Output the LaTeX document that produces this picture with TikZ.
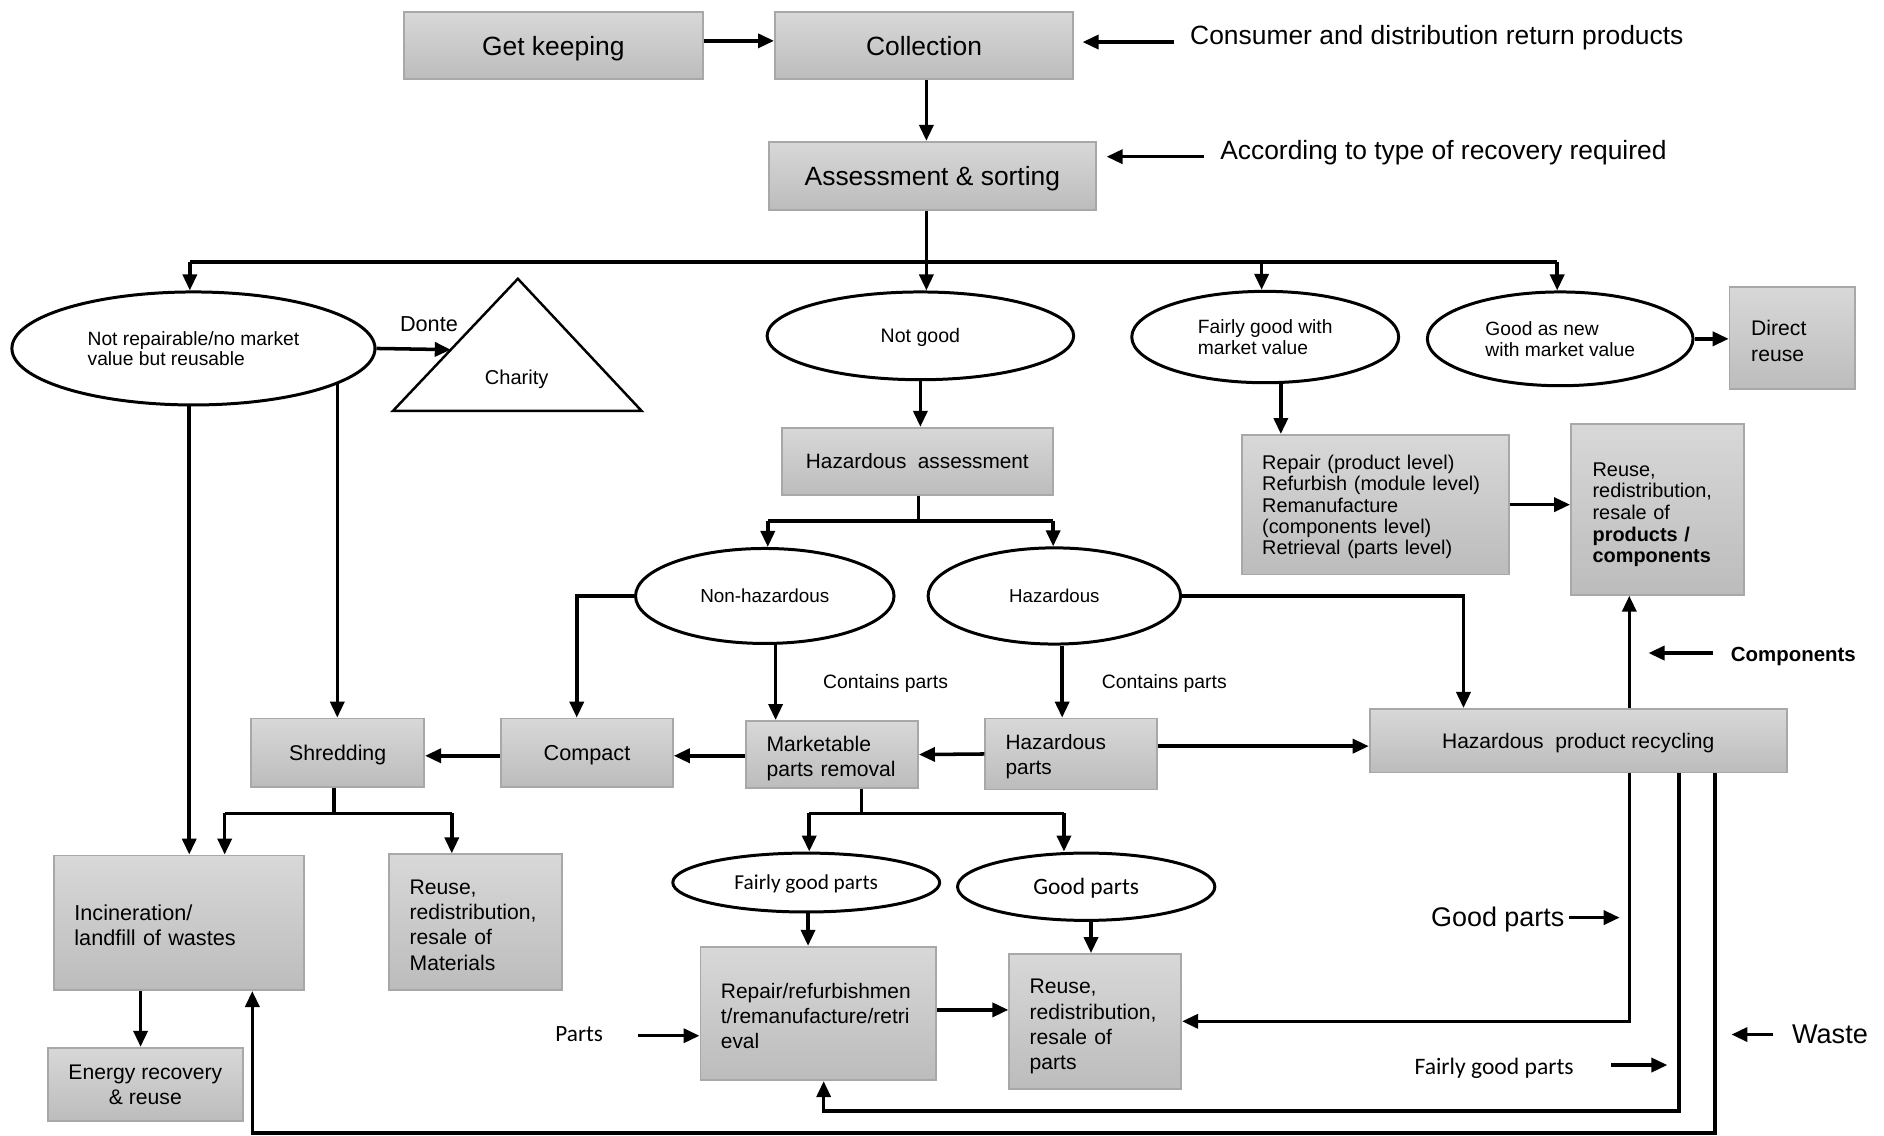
\documentclass[tikz,border=0pt]{standalone}
\usepackage{fontspec}
\setmainfont{Liberation Sans}
\newfontfamily\calfont{Carlito}
\usetikzlibrary{arrows.meta,shapes.geometric,calc}
\newcommand\fsz[2]{\fontsize{#1}{#2}\selectfont}
\definecolor{boxtop}{RGB}{216,216,216}
\definecolor{boxbot}{RGB}{188,188,188}
\definecolor{boxline}{RGB}{168,168,168}
\begin{document}
\begin{tikzpicture}[x=0.012cm, y=-0.012cm,
  box/.style={draw=boxline, line width=0.5pt, top color=boxtop, bottom color=boxbot, inner sep=0pt, align=center},
  lbox/.style={box, align=left, inner xsep=0.204cm},
  oval/.style={draw, ellipse, line width=0.85pt, inner sep=0pt, align=left},
  oneline/.style={text depth=-1pt},
  ln/.style={line width=1pt},
  arr/.style={ln, -{Triangle[length=0.16cm,width=0.14cm]}},
  lbl/.style={inner sep=0pt}]

\fill[white] (0,0) rectangle (1568,945);
\useasboundingbox (0,0) rectangle (1568,945);

% ---------- process boxes ----------
\node[box, oneline, minimum width=2.988cm, minimum height=0.672cm, font=\fsz{7.5}{7.5}] (getkeep) at (460.5,38) {Get keeping};
\node[box, oneline, minimum width=2.976cm, minimum height=0.672cm, font=\fsz{7.5}{7.5}] (collection) at (769,38) {Collection};
\node[box, oneline, minimum width=3.264cm, minimum height=0.684cm, font=\fsz{7.5}{7.5}] (assess) at (776,146.5) {Assessment \& sorting};
\node[lbox, text width=0.816cm, inner xsep=0.216cm, minimum height=1.02cm, text height=5.8pt, font=\fsz{6}{7.5}] (direct) at (1491.5,281.5) {Direct\\reuse};
\node[box, oneline, minimum width=2.7cm, minimum height=0.672cm, font=\fsz{5.9}{7}] (hazassess) at (763.5,384) {Hazardous\ \ assessment};
\node[lbox, text width=2.256cm, minimum height=1.392cm, text height=5.5pt, font=\fsz{5.65}{6.06}] (repairprod) at (1144.5,420)
  {Repair (product level)\\Refurbish (module level)\\Remanufacture\\(components level)\\Retrieval (parts level)};
\node[lbox, text width=1.296cm, inner xsep=0.216cm, minimum height=1.704cm, text height=6.85pt, font=\fsz{5.65}{6.15}] (reuseprod) at (1379.5,424)
  {Reuse,\\redistribution,\\resale of\\\textbf{products /}\\\textbf{components}};
\node[box, oneline, minimum width=1.728cm, minimum height=0.684cm, font=\fsz{6.05}{7}] (shred) at (281,626.5) {Shredding};
\node[box, oneline, minimum width=1.716cm, minimum height=0.684cm, font=\fsz{6.15}{7}] (compact) at (488.5,626.5) {Compact};
\node[lbox, text width=1.308cm, minimum height=0.672cm, text height=6.4pt, font=\fsz{6}{7.17}] (market) at (692.5,628) {Marketable\\parts removal};
\node[lbox, text width=1.308cm, minimum height=0.708cm, text height=5.7pt, font=\fsz{5.9}{7.17}] (hazparts) at (891.5,627.5) {Hazardous\\parts};
\node[box, oneline, minimum width=4.164cm, minimum height=0.636cm, font=\fsz{5.97}{7}] (hazrec) at (1313.5,616.5) {Hazardous\ \ product recycling};
\node[lbox, text width=2.088cm, minimum height=1.344cm, text height=5.9pt, font=\fsz{6.15}{7.17}] (incin) at (149,768) {Incineration/\\landfill of wastes};
\node[lbox, text width=1.32cm, minimum height=1.356cm, text height=5.75pt, font=\fsz{6}{7.17}] (reusemat) at (396,767.5) {Reuse,\\redistribution,\\resale of\\Materials};
\node[box, minimum width=1.944cm, minimum height=0.732cm, text depth=-2pt, font=\fsz{6}{7.17}] (energy) at (121,902.5) {Energy recovery\\\& reuse};
\node[lbox, text width=1.944cm, minimum height=1.332cm, text height=5.7pt, font=\fsz{5.95}{7.17}] (repairref) at (681,843.5) {Repair/refurbishmen\\t/remanufacture/retri\\eval};
\node[lbox, text width=1.308cm, minimum height=1.344cm, text height=7.1pt, font=\fsz{6}{7.17}] (reuseparts) at (911.5,850) {Reuse,\\redistribution,\\resale of\\parts};

% ---------- decision ovals ----------
\node[oval, oneline, minimum width=3.624cm, minimum height=1.128cm, font=\fsz{5.46}{5.8}] (notrep) at (161,290) {Not repairable/no market\\value but reusable};
\node[oval, minimum width=3.06cm, minimum height=0.876cm, font=\fsz{5.55}{5.8}, text depth=-1.6pt] (notgood) at (766,279.5) {Not good};
\node[oval, minimum width=2.664cm, minimum height=0.912cm, text depth=-2pt, font=\fsz{5.46}{5.8}] (fairwith) at (1053,280.5) {Fairly good with\\market value};
\node[oval, minimum width=2.652cm, minimum height=0.936cm, text depth=-2pt, font=\fsz{5.46}{5.8}] (goodnew) at (1298.5,282) {Good as new\\with market value};
\node[oval, oneline, minimum width=2.58cm, minimum height=0.948cm, font=\fsz{5.36}{5.8}] (nonhaz) at (636.5,496) {Non-hazardous};
\node[oval, oneline, minimum width=2.52cm, minimum height=0.96cm, font=\fsz{5.3}{5.8}] (haz) at (877.5,496) {Hazardous};
\node[oval, minimum width=2.664cm, minimum height=0.588cm, font=\calfont\fsz{6.04}{6.5}, text depth=0pt] (fairparts) at (671,734.5) {Fairly good parts};
\node[oval, oneline, minimum width=2.568cm, minimum height=0.672cm, font=\calfont\fsz{6.66}{7}] (goodparts) at (904,738) {Good parts};

% ---------- charity triangle ----------
\coordinate (tl) at (327,342);
\coordinate (tt) at (431,232);
\coordinate (tr) at (534,342);
\draw[line width=0.7pt] (tl) -- (tt) -- (tr) -- cycle;
\node[lbl, font=\fsz{5.7}{7}] (charity) at (430,316) {Charity};

% ---------- free labels ----------
\node[lbl, font=\fsz{7.5}{7.5}, anchor=west] (consumer) at (990,31) {Consumer and distribution return products};
\node[lbl, font=\fsz{7.5}{7.5}, anchor=west] (according) at (1015,127) {According to type of recovery required};
\node[lbl, font=\fsz{6.15}{7}] (donte) at (357,270) {Donte};
\node[lbl, font=\fsz{5.5}{7}] (cp1) at (737,569) {Contains parts};
\node[lbl, font=\fsz{5.5}{7}] (cp2) at (969,569) {Contains parts};
\node[lbl, font=\bfseries\fsz{5.8}{7}, anchor=west] (complbl) at (1440,546) {Components};
\node[lbl, font=\fsz{7.65}{8}] (goodlbl) at (1246.5,765) {Good parts};
\node[lbl, font=\fsz{7.7}{8}] (wastelbl) at (1523,861) {Waste};
\node[lbl, font=\calfont\fsz{6.7}{7}] (fairlbl) at (1243.5,889) {Fairly good parts};
\node[lbl, font=\calfont\fsz{6.6}{7}] (partslbl) at (482,860.5) {Parts};

% ---------- top flow ----------
\draw[arr] ($(getkeep.east)+(0,-4)$) -- ($(collection.west)+(0,-4)$);
\coordinate (ca1) at (977,35); \coordinate (ca2) at (901,35);
\draw[arr] (ca1) -- (ca2);
\coordinate (aa1) at (1002,130.4); \coordinate (aa2) at (921,130.4);
\draw[arr] (aa1) -- (aa2);
\coordinate (tj) at (771,218);
\draw[arr] (collection.south -| tj) -- (assess.north -| tj);
\draw[ln] (assess.south -| tj) -- (tj);
\coordinate (b1) at (158,218);
\coordinate (b3) at (1050,218);
\coordinate (b4) at (1296,218);
\draw[ln] (b1) -- (b4);
\draw[arr] (b1) -- (b1 |- notrep.north);
\draw[arr] (tj) -- (tj |- notgood.north);
\draw[arr] (b3) -- (b3 |- fairwith.north);
\draw[arr] (b4) -- (b4 |- goodnew.north);

% ---------- sorted branches ----------
\draw[arr] (notrep.east) -- ($(tl)!0.4636!(tt)$);
\draw[arr] (goodnew.east) -- (goodnew.east -| direct.west);
\draw[arr] (notgood.south) -- (notgood.south |- hazassess.north);
\coordinate (fw) at ($(fairwith.south)+(13,0)$);
\draw[arr] (fw) -- (fw |- repairprod.north);
\draw[arr] (repairprod.east) -- (repairprod.east -| reuseprod.west);

% ---------- hazardous assessment ----------
\coordinate (hj) at (764.5,433.5);
\coordinate (h1) at (639,433.5);
\coordinate (h2) at (876.5,433.5);
\draw[ln] (hazassess.south -| hj) -- (hj);
\draw[ln] (h1) -- (h2);
\draw[arr] (h1) -- (h1 |- nonhaz.north);
\draw[arr] (h2) -- (h2 |- haz.north);
\coordinate (cn) at ($(compact.north)+(-8.5,0)$);
\draw[arr] (nonhaz.west) -| (cn);
\coordinate (nh) at ($(nonhaz.south)+(9,0)$);
\draw[arr] (nh) -- (nh |- market.north);
\coordinate (hz) at ($(haz.south)+(6.5,0)$);
\draw[arr] (hz) -- (hz |- hazparts.north);
\coordinate (hr) at ($(hazrec.north)+(-95.5,0)$);
\draw[arr] (haz.east) -| (hr);
\draw[arr] (hazparts.west) -- (market.east);
\coordinate (hp) at ($(hazparts.east)+(0,-6.5)$);
\draw[arr] (hp) -- (hp -| hazrec.west);
\coordinate (mk) at ($(market.west)+(0,1)$);
\draw[arr] (mk) -- (mk -| compact.east);
\coordinate (cpa) at ($(compact.west)+(0,2.5)$);
\draw[arr] (cpa) -- (cpa -| shred.east);

% ---------- left column ----------
\coordinate (e1a) at ($(notrep.south)+(-3.5,0)$);
\draw[arr] (e1a) -- (e1a |- incin.north);
\coordinate (e1b) at (notrep.-14.2);
\draw[arr] (e1b) -- (e1b |- shred.north);
\coordinate (sj) at (278,677);
\coordinate (s1) at (187,677);
\coordinate (s2) at (376,677);
\draw[ln] (shred.south -| sj) -- (sj);
\draw[ln] (s1) -- (s2);
\draw[arr] (s1) -- (s1 |- incin.north);
\draw[arr] (s2) -- (s2 |- reusemat.north);
\coordinate (ie) at ($(incin.south)+(-32,0)$);
\draw[arr] (ie) -- (ie |- energy.north);

% ---------- parts handling ----------
\coordinate (mj) at (717,677);
\coordinate (m1) at (673.5,677);
\coordinate (m2) at (885.5,677);
\draw[ln] (market.south -| mj) -- (mj);
\draw[ln] (m1) -- (m2);
\draw[arr] (m1) -- (m1 |- fairparts.north);
\draw[arr] (m2) -- (m2 |- goodparts.north);
\coordinate (fp) at ($(fairparts.south)+(1.5,0)$);
\draw[arr] (fp) -- (fp |- repairref.north);
\coordinate (gp) at ($(goodparts.south)+(4,0)$);
\draw[arr] (gp) -- (gp |- reuseparts.north);
\coordinate (rr) at ($(repairref.east)+(0,-3)$);
\draw[arr] (rr) -- (rr -| reuseparts.west);
\coordinate (pa) at (531,862);
\draw[arr] (pa) -- (pa -| repairref.west);

% ---------- recycling returns ----------
\coordinate (up) at ($(hazrec.north)+(42.5,0)$);
\draw[arr] (up) -- (up |- reuseprod.south);
\coordinate (la) at ($(hazrec.south)+(42.5,0)$);
\draw[arr] (la) |- (reuseparts.east);
\coordinate (lbt) at ($(hazrec.south)+(84,0)$);
\coordinate (lb) at (685.5,924.5);
\draw[arr] (lbt) |- (lb) -- (lb |- repairref.south);
\coordinate (lct) at ($(hazrec.south)+(114,0)$);
\coordinate (lc) at (210,943);
\draw[arr] (lct) |- (lc) -- (lc |- incin.south);

% ---------- label pointers ----------
\coordinate (co1) at (1426,543.5); \coordinate (co2) at (1372,543.5);
\draw[arr] (co1) -- (co2);
\coordinate (gl1) at (1306,763.7); \coordinate (gl2) at (1348,763.7);
\draw[arr] (gl1) -- (gl2);
\coordinate (wl1) at (1476,861); \coordinate (wl2) at (1441,861);
\draw[arr] (wl1) -- (wl2);
\coordinate (fl1) at (1340.6,886.4); \coordinate (fl2) at (1387.7,886.4);
\draw[arr] (fl1) -- (fl2);
\end{tikzpicture}
\end{document}
